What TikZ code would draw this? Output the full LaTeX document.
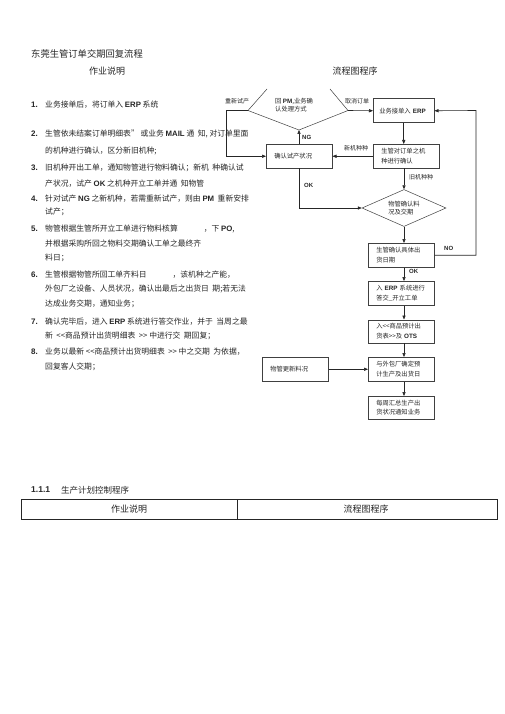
\documentclass[tikz,border=0pt]{standalone}
\usepackage{fontspec}
\setmainfont{Noto Sans CJK SC}
\newfontfamily\lat{Liberation Sans}
\usetikzlibrary{arrows.meta,shapes.geometric}
\newcommand{\LB}[1]{{\lat\bfseries #1}}
\begin{document}
\begin{tikzpicture}[x=1pt,y=-1pt,
  every node/.style={inner sep=0pt, text=black!85},
  lst/.style={anchor=west, font=\fontsize{7.8}{10}\selectfont},
  num/.style={anchor=west, font=\lat\bfseries\fontsize{8}{10}\selectfont},
  fbox/.style={draw=black!75, line width=0.5pt, anchor=north west, inner xsep=8pt, inner ysep=0pt, align=left, text width=50pt, minimum height=24pt, font=\fontsize{6.3}{9.5}\selectfont},
  lbl/.style={font=\fontsize{6}{7}\selectfont},
  lblb/.style={anchor=west, font=\lat\bfseries\fontsize{6}{7}\selectfont},
  arr/.style={draw=black!85, line width=0.6pt, -{Triangle[length=4pt,width=3.2pt]}},
  ln/.style={draw=black!75, line width=0.5pt}
]
\useasboundingbox (0,0) rectangle (505,714);
\fill[white] (0,0) rectangle (505,714);

% headings
\node[anchor=west, font=\fontsize{9.3}{11}\selectfont] (title) at (31,54) {东莞生管订单交期回复流程};
\node[font=\fontsize{9}{11}\selectfont] (h1) at (107,71) {作业说明};
\node[font=\fontsize{9}{11}\selectfont] (h2) at (355,71) {流程图程序};

% list
\node[num] (n1) at (31,105) {1.};
\node[lst] (t1) at (45,105) {业务接单后，将订单入 \LB{ERP} 系统};
\node[num] (n2) at (31,134) {2.};
\node[lst] (t2a) at (45,134) {生管依未结案订单明细表" 或业务 \LB{MAIL} 通\ \ 知, 对订单里面};
\node[lst] (t2b) at (45,151) {的机种进行确认，区分新旧机种;};
\node[num] (n3) at (31,168) {3.};
\node[lst] (t3a) at (45,168) {旧机种开出工单，通知物管进行物料确认；新机\ \ 种确认试};
\node[lst] (t3b) at (45,184) {产状况，试产 \LB{OK} 之机种开立工单并通\ \ 知物管};
\node[num] (n4) at (31,199) {4.};
\node[lst] (t4a) at (45,199) {针对试产 \LB{NG} 之新机种，若需重新试产，则由 \LB{PM}\ \ 重新安排};
\node[lst] (t4b) at (45,212) {试产；};
\node[num] (n5) at (31,229) {5.};
\node[lst] (t5a) at (45,229) {物管根据生管所开立工单进行物料核算\hspace{26pt}，下 \LB{PO},};
\node[lst] (t5b) at (45,244) {并根据采购所回之物料交期确认工单之最终齐};
\node[lst] (t5c) at (45,258) {料日；};
\node[num] (n6) at (31,275) {6.};
\node[lst] (t6a) at (45,275) {生管根据物管所回工单齐料日\hspace{26pt}，该机种之产能，};
\node[lst] (t6b) at (45,289) {外包厂之设备、人员状况，确认出最后之出货日\ \ 期;若无法};
\node[lst] (t6c) at (45,304) {达成业务交期，通知业务；};
\node[num] (n7) at (31,322) {7.};
\node[lst] (t7a) at (45,322) {确认完毕后，进入 \LB{ERP} 系统进行答交作业，并于\ \ 当周之最};
\node[lst] (t7b) at (45,336) {新\ \ <{}<商品预计出货明细表\ \ >{}> 中进行交\ \ 期回复；};
\node[num] (n8) at (31,352) {8.};
\node[lst] (t8a) at (45,352) {业务以最新 <{}<商品预计出货明细表\ \ >{}> 中之交期\ \ 为依据，};
\node[lst] (t8b) at (45,367) {回复客人交期；};

% flowchart boxes
\node[fbox, inner xsep=6pt, text width=49pt] (b1) at (373,98.5) {业务接单入 \LB{ERP}};
\node[fbox] (b2) at (373,144) {生管对订单之机\\种进行确认};
\node[fbox] (bc) at (266,144) {确认试产状况};
\node[fbox] (b3) at (368,243) {生管确认具体出\\货日期};
\node[fbox] (b4) at (368,281) {入 \LB{ERP} 系统进行\\答交\_开立工单};
\node[fbox, minimum height=23pt] (b5) at (368,319.5) {入<{}<商品预计出\\货表>{}>及 \LB{OTS}};
\node[fbox] (b6) at (368,357) {与外包厂确定预\\计生产及出货日};
\node[fbox, minimum height=23pt] (b7) at (368,396) {每周汇总生产出\\货状况通知业务};
\node[fbox] (bm) at (262,357) {物管更新料况};

% diamond 1 (top cut off)
\coordinate (d1w) at (248,110.5);
\coordinate (d1e) at (348,110.5);
\coordinate (d1s) at (299,130);
\draw[ln] (267,89) -- (d1w) -- (d1s) -- (d1e) -- (330,89);
\node[align=left, anchor=north west, font=\fontsize{6.3}{8}\selectfont] (d1) at (275,98) {回 \LB{PM},业务确\\认处理方式};

% diamond 2
\node[draw=black!75, line width=0.5pt, diamond, aspect=2.27, minimum width=84pt, minimum height=37pt, align=left, font=\fontsize{6.3}{8}\selectfont] (d2) at (404,208) {物管确认料\\况及交期};

% connectors
\draw[arr] (d1e) -- (b1.west);
\node[lbl] (l1) at (357,101) {取消订单};
\draw[arr] (b1.south) -- (b1.south |- b2.north);
\draw[arr] (d2.north |- b2.south) -- (d2.north);
\node[lbl, anchor=west] (l2) at (409,177) {旧机种种};
\draw[arr] (b2.west) -- (bc.east);
\node[lbl] (l3) at (356,148) {新机种种};
\draw[arr] (d1s |- bc.north) -- (d1s);
\node[lblb] (l4) at (302,137) {NG};
\coordinate (lp) at (226,110.5);
\draw[arr] (d1w) -- (lp) |- (bc.west);
\node[lbl] (l5) at (237,101) {重新试产};
\draw[arr] (bc.south) |- (d2.west);
\node[lblb] (l6) at (304,185) {OK};
\draw[arr] (d2.south) -- (d2.south |- b3.north);
\coordinate (nr) at (476,110.5);
\draw[arr] (b3.east) -| (nr) -- (b1.east);
\node[lblb] (l7) at (444,248) {NO};
\draw[arr] (d2.south |- b3.south) -- (d2.south |- b4.north);
\node[lblb] (l8) at (409,271) {OK};
\draw[arr] (d2.south |- b4.south) -- (d2.south |- b5.north);
\draw[arr] (d2.south |- b5.south) -- (d2.south |- b6.north);
\draw[arr] (d2.south |- b6.south) -- (d2.south |- b7.north);
\draw[arr] (bm.east) -- (b6.west);

% bottom section
\node[anchor=west, font=\lat\bfseries\fontsize{8.5}{10}\selectfont] (s1) at (31,490) {1.1.1};
\node[anchor=west, font=\fontsize{8.5}{10}\selectfont] (s2) at (61,490) {生产计划控制程序};
\draw[line width=0.8pt, black!85] (21,499) rectangle (497,519);
\draw[line width=0.8pt, black!85] (237,499) -- (237,519);
\node[font=\fontsize{9}{11}\selectfont] (c1) at (129,509.5) {作业说明};
\node[font=\fontsize{9}{11}\selectfont] (c2) at (366,509.5) {流程图程序};
\end{tikzpicture}
\end{document}
